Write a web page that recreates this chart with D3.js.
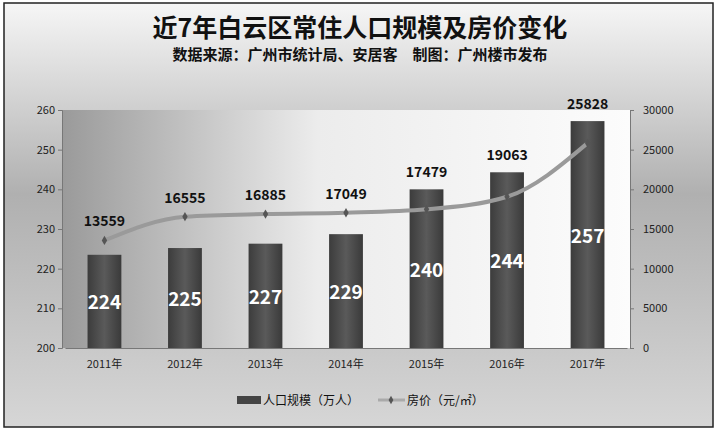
<!DOCTYPE html>
<html><head><meta charset="utf-8">
<script src="https://cdn.jsdelivr.net/npm/d3@7"></script>
<style>body{margin:0;background:#fff}text{font-family:"Noto Sans CJK SC",sans-serif}</style>
</head><body><div id="chart"></div>
<script>
var years=["2011年","2012年","2013年","2014年","2015年","2016年","2017年"];
var population=[224,225,227,229,240,244,257];
var barTops=[223.5,225.2,226.3,228.7,240,244.3,257.2];
var prices=[13559,16555,16885,17049,17479,19063,25828];
var leftTicks=[200,210,220,230,240,250,260];
var rightTicks=[0,5000,10000,15000,20000,25000,30000];

var svg=d3.select("#chart").append("svg").attr("width",720).attr("height",435);
var defs=svg.append("defs");
var bg=defs.append("linearGradient").attr("id","bg").attr("x1",0).attr("y1",0).attr("x2",0).attr("y2",1);
bg.append("stop").attr("offset","0").attr("stop-color","#f6f6f6");
bg.append("stop").attr("offset","0.45").attr("stop-color","#b0b0b0");
bg.append("stop").attr("offset","1").attr("stop-color","#d6d6d6");
var pg=defs.append("linearGradient").attr("id","pg").attr("x1",0).attr("y1",0).attr("x2",1).attr("y2",0);
pg.append("stop").attr("offset","0").attr("stop-color","#9a9a9a");
pg.append("stop").attr("offset","0.45").attr("stop-color","#ececec");
pg.append("stop").attr("offset","1").attr("stop-color","#fcfcfc");
var bgBar=defs.append("linearGradient").attr("id","bar").attr("x1",0).attr("y1",0).attr("x2",1).attr("y2",0);
bgBar.append("stop").attr("offset","0").attr("stop-color","#3c3c3c");
bgBar.append("stop").attr("offset","0.5").attr("stop-color","#5a5a5a");
bgBar.append("stop").attr("offset","1").attr("stop-color","#3a3a3a");

svg.append("rect").attr("x",4).attr("y",3).attr("width",709).attr("height",424)
  .attr("fill","url(#bg)").attr("stroke","#222").attr("stroke-width",1.5);

svg.append("text").attr("x",360).attr("y",37).attr("text-anchor","middle")
  .attr("font-size",25).attr("font-weight","bold").attr("fill","#111").text("近7年白云区常住人口规模及房价变化");
svg.append("text").attr("x",360).attr("y",60).attr("text-anchor","middle")
  .attr("font-size",15).attr("font-weight","bold").attr("fill","#111").text("数据来源：广州市统计局、安居客　制图：广州楼市发布");

var L=62,R=630,T=110,B=348;
svg.append("rect").attr("x",L).attr("y",T).attr("width",R-L).attr("height",B-T).attr("fill","url(#pg)");

var x=d3.scaleBand().domain(years).range([L+3,R-3]).paddingInner(0.58).paddingOuter(0.28);
var y=d3.scaleLinear().domain([200,260]).range([B,T]);
var y2=d3.scaleLinear().domain([0,30000]).range([B,T]);

var ax=svg.append("g").attr("transform","translate("+L+",0)")
  .call(d3.axisLeft(y).tickValues(leftTicks).tickSize(4));
var ar=svg.append("g").attr("transform","translate("+R+",0)")
  .call(d3.axisRight(y2).tickValues(rightTicks).tickSize(4).tickFormat(d3.format("d")));
var ab=svg.append("g").attr("transform","translate(0,"+B+")")
  .call(d3.axisBottom(x).tickSize(0).tickPadding(12));
[ax,ar,ab].forEach(function(g){
  g.selectAll("path,line").attr("stroke","#777");
  g.selectAll("text").attr("font-size",11).attr("fill","#222").style("font-family","'Noto Sans CJK SC'");
});
ar.selectAll("text").attr("dx",6);

svg.append("g").selectAll("rect").data(years).enter().append("rect")
  .attr("x",function(d){return x(d);}).attr("width",x.bandwidth())
  .attr("y",function(d,i){return y(barTops[i]);})
  .attr("height",function(d,i){return B-y(barTops[i]);})
  .attr("fill","url(#bar)");

svg.append("g").selectAll("text").data(years).enter().append("text")
  .attr("x",function(d){return x(d)+x.bandwidth()/2;})
  .attr("y",function(d,i){return (y(barTops[i])+B)/2+8;})
  .attr("text-anchor","middle").attr("font-size",19).attr("font-weight","bold").attr("fill","#fff")
  .text(function(d,i){return population[i];});

var line=d3.line().x(function(d,i){return x(years[i])+x.bandwidth()/2;}).y(function(d){return y2(d);})
  .curve(d3.curveMonotoneX);
svg.append("path").datum(prices).attr("d",line).attr("fill","none").attr("stroke","#9a9a9a").attr("stroke-width",4);
svg.append("g").selectAll("path").data(prices).enter().append("path")
  .attr("d",d3.symbol().type(d3.symbolDiamond).size(25))
  .attr("transform",function(d,i){return "translate("+(x(years[i])+x.bandwidth()/2)+","+y2(d)+")";})
  .attr("fill","#555");
svg.append("g").selectAll("text").data(prices).enter().append("text")
  .attr("x",function(d,i){return x(years[i])+x.bandwidth()/2;})
  .attr("y",function(d,i){return Math.min(y2(d)-14,y(barTops[i])-12);})
  .attr("text-anchor","middle").attr("font-size",14).attr("font-weight","bold").attr("fill","#111")
  .text(function(d){return d;});

var lg=svg.append("g");
lg.append("rect").attr("x",237).attr("y",396).attr("width",24).attr("height",8).attr("fill","#444");
lg.append("text").attr("x",263).attr("y",405).attr("font-size",12).attr("fill","#111").text("人口规模（万人）");
lg.append("line").attr("x1",378).attr("x2",405).attr("y1",400).attr("y2",400).attr("stroke","#aaa").attr("stroke-width",3);
lg.append("path").attr("d",d3.symbol().type(d3.symbolDiamond).size(20)).attr("transform","translate(391,400)").attr("fill","#555");
lg.append("text").attr("x",407).attr("y",405).attr("font-size",12).attr("fill","#111").text("房价（元/㎡）");
</script></body></html>
